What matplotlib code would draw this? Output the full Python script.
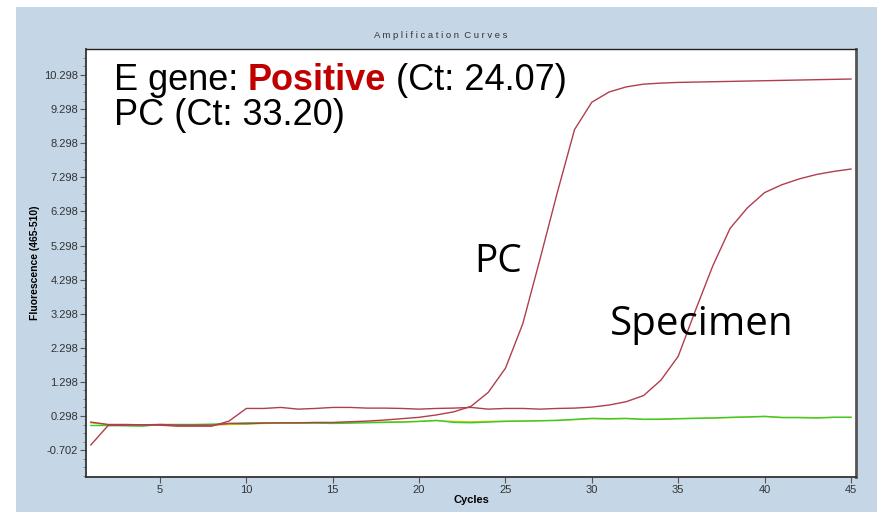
import numpy as np
import matplotlib
matplotlib.use("Agg")
import matplotlib.pyplot as plt
from matplotlib.patches import Rectangle
from matplotlib.ticker import FixedLocator

# cycles and fluorescence readings
cycles = list(range(1, 46))
pc_curve = [0.12, 0.05, 0.05, 0.04, 0.05, 0.03, 0.03, 0.03, 0.08, 0.07,
            0.09, 0.10, 0.10, 0.11, 0.11, 0.13, 0.15, 0.18, 0.22, 0.26,
            0.33, 0.42, 0.58, 0.99, 1.70, 3.00, 4.90, 6.85, 8.70, 9.50,
            9.80, 9.95, 10.03, 10.06, 10.08, 10.09, 10.10, 10.11, 10.12, 10.13,
            10.14, 10.15, 10.16, 10.17, 10.18]
specimen_curve = [-0.55, 0.02, 0.03, 0.04, 0.03, 0.00, 0.00, 0.00, 0.15, 0.52,
                  0.52, 0.55, 0.50, 0.52, 0.55, 0.55, 0.53, 0.53, 0.52, 0.50,
                  0.52, 0.53, 0.55, 0.50, 0.52, 0.52, 0.50, 0.52, 0.53, 0.56,
                  0.62, 0.72, 0.90, 1.35, 2.05, 3.40, 4.70, 5.80, 6.40, 6.85,
                  7.08, 7.25, 7.38, 7.47, 7.54]
yellow_curve = [0.10, 0.04, 0.04, 0.03, 0.04, 0.03, 0.02, 0.03, 0.05, 0.07,
                0.08, 0.09, 0.09, 0.10, 0.10, 0.11, 0.12, 0.12, 0.13, 0.14,
                0.16, 0.14, 0.13, 0.14, 0.15, 0.15, 0.16, 0.17, 0.19, 0.22,
                0.21, 0.22, 0.20, 0.21, 0.22, 0.23, 0.24, 0.25, 0.27, 0.28,
                0.26, 0.26, 0.25, 0.26, 0.26]
neg_curve = [0.02, 0.02, 0.01, 0.00, 0.05, 0.05, 0.05, 0.06, 0.08, 0.10,
             0.10, 0.09, 0.09, 0.09, 0.08, 0.09, 0.10, 0.11, 0.12, 0.14,
             0.17, 0.11, 0.10, 0.12, 0.14, 0.15, 0.16, 0.17, 0.20, 0.23,
             0.22, 0.23, 0.20, 0.20, 0.22, 0.23, 0.24, 0.26, 0.27, 0.29,
             0.25, 0.25, 0.24, 0.26, 0.26]
y_ticks = [-0.702, 0.298, 1.298, 2.298, 3.298, 4.298, 5.298, 6.298, 7.298, 8.298, 9.298, 10.298]
x_ticks = [5, 10, 15, 20, 25, 30, 35, 40, 45]

fig = plt.figure(figsize=(8.78, 5.12), dpi=100)
fig.patches.append(Rectangle((16 / 878, 0), 1, 1 - 7 / 512, transform=fig.transFigure,
                             facecolor="#c5d6e6", edgecolor="none", zorder=-10))

ax = fig.add_axes([86 / 878, 1 - 477 / 512, (856 - 86) / 878, (477 - 49) / 512])
ax.set_facecolor("white")

red = "#b03e4c"
ax.plot(cycles, yellow_curve, color="#d8c400", lw=1)
ax.plot(cycles, neg_curve, color="#33cc33", lw=1)
ax.plot(cycles, specimen_curve, color=red, lw=1)
ax.plot(cycles, pc_curve, color=red, lw=1)

ax.set_xlim(0.72, 45.29)
ax.set_ylim(-1.49, 11.06)
ax.set_xticks(x_ticks)
ax.set_yticks(y_ticks)
ax.set_yticklabels([f"{v:.3f}" for v in y_ticks])
ax.yaxis.set_minor_locator(FixedLocator(np.arange(-1.452, 11.0, 0.25)))
ax.tick_params(axis="both", which="major", labelsize=8, labelcolor="#333333",
               color="#555555", length=4, width=0.8, pad=1.5)
ax.tick_params(axis="y", which="minor", length=2, color="#777777", width=0.6)
for lab in ax.get_xticklabels() + ax.get_yticklabels():
    lab.set_family("Liberation Sans")

for side in ["left", "bottom"]:
    ax.spines[side].set_color("#333333")
    ax.spines[side].set_linewidth(1.3)
ax.spines["top"].set_color("#222222")
ax.spines["top"].set_linewidth(1.0)
ax.spines["right"].set_color("#555555")
ax.spines["right"].set_linewidth(2.0)

fig.text(441 / 878, 1 - 35 / 512, "A m p l i f i c a t i o n  C u r v e s",
         ha="center", va="center", fontsize=6.8, color="#333333", family="Liberation Sans")
ax.set_xlabel("Cycles", fontsize=8, fontweight="bold", family="Liberation Sans", labelpad=0)
ax.set_ylabel("Fluorescence (465-510)", fontsize=7.5, fontweight="bold",
              family="Liberation Sans", labelpad=3)

# headline text
big = dict(fontsize=26, family="Liberation Sans")
t1 = ax.text(0.036, 0.905, "E gene: ", transform=ax.transAxes, va="baseline", color="black", **big)
t2 = ax.annotate("Positive", xy=(1, 0), xycoords=t1, va="bottom", color="#c00000",
                 fontweight="bold", **big)
ax.annotate(" (Ct: 24.07)", xy=(1, 0), xycoords=t2, va="bottom", color="black", **big)
ax.text(0.036, 0.823, "PC (Ct: 33.20)", transform=ax.transAxes, va="baseline",
        color="black", **big)

lab = dict(family="Open Sans", color="black", va="baseline")
ax.text(23.2, 4.52, "PC", fontsize=28, **lab)
ax.text(31.05, 2.67, "Specimen", fontsize=29, **lab)

fig.savefig("out.png", dpi=100)
